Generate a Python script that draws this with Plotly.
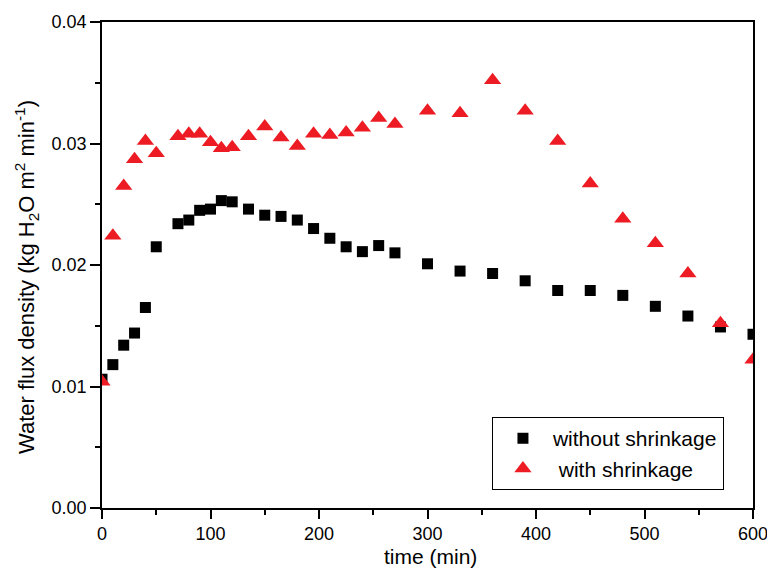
import plotly.graph_objects as go

t_without = [0, 10, 20, 30, 40, 50, 70, 80, 90, 100, 110, 120, 135, 150, 165, 180, 195, 210,
             225, 240, 255, 270, 300, 330, 360, 390, 420, 450, 480, 510, 540, 570, 600]
flux_without = [0.0106, 0.0118, 0.0134, 0.0144, 0.0165, 0.0215, 0.0234, 0.0237, 0.0245, 0.0246,
                0.0253, 0.0252, 0.0246, 0.0241, 0.0240, 0.0237, 0.0230, 0.0222, 0.0215, 0.0211,
                0.0216, 0.0210, 0.0201, 0.0195, 0.0193, 0.0187, 0.0179, 0.0179, 0.0175, 0.0166,
                0.0158, 0.0149, 0.0143]

t_with = [0, 10, 20, 30, 40, 50, 70, 80, 90, 100, 110, 120, 135, 150, 165, 180, 195, 210,
          225, 240, 255, 270, 300, 330, 360, 390, 420, 450, 480, 510, 540, 570, 600]
flux_with = [0.0104, 0.0224, 0.0265, 0.0287, 0.0302, 0.0292, 0.0306, 0.0308, 0.0308, 0.0301,
             0.0296, 0.0297, 0.0306, 0.0314, 0.0305, 0.0298, 0.0308, 0.0307, 0.0309, 0.0313,
             0.0321, 0.0316, 0.0327, 0.0325, 0.0352, 0.0327, 0.0302, 0.0267, 0.0238, 0.0218,
             0.0193, 0.0152, 0.0122]

x_ticks = [0, 100, 200, 300, 400, 500, 600]
y_ticks = [0.00, 0.01, 0.02, 0.03, 0.04]
y_ticklabels = ["0.00", "0.01", "0.02", "0.03", "0.04"]

x_title = "time (min)"
y_title = "Water flux density (kg H<sub>2</sub>O m<sup>2</sup> min<sup>-1</sup>)"

FONT = "Liberation Sans, Arial, sans-serif"

fig = go.Figure()
fig.add_trace(go.Scatter(
    x=t_without, y=flux_without, mode="markers", name="without shrinkage",
    marker=dict(symbol="square", size=11, color="#000000"),
))
fig.add_trace(go.Scatter(
    x=t_with, y=flux_with, mode="markers", name="\u00a0with shrinkage",
    marker=dict(symbol="triangle-up", size=15, color="#ED1C24"),
))

fig.update_layout(
    width=767, height=575,
    margin=dict(l=102, r=14, t=22, b=67, pad=0),
    paper_bgcolor="white", plot_bgcolor="white",
    font=dict(family=FONT, size=18, color="black"),
    showlegend=True,
    legend=dict(
        x=0.599, y=0.187, xanchor="left", yanchor="top",
        bordercolor="black", borderwidth=1, bgcolor="white",
        font=dict(family=FONT, size=21, color="black"),
        itemwidth=50, tracegroupgap=0,
    ),
    xaxis=dict(
        range=[0, 600], tickvals=x_ticks, ticktext=[str(v) for v in x_ticks],
        showline=True, linecolor="black", linewidth=1.5, mirror=True,
        ticks="outside", ticklen=9, tickwidth=1.5, tickcolor="black",
        minor=dict(dtick=50, ticks="outside", ticklen=5, tickwidth=1.5, tickcolor="black"),
        showgrid=False, zeroline=False, ticklabeloverflow="allow", automargin=False,
        tickfont=dict(size=18),
    ),
    yaxis=dict(
        range=[0, 0.04], tickvals=y_ticks, ticktext=y_ticklabels,
        showline=True, linecolor="black", linewidth=1.5, mirror=True,
        ticks="outside", ticklen=10, tickwidth=1.5, tickcolor="black",
        minor=dict(dtick=0.005, ticks="outside", ticklen=5, tickwidth=1.5, tickcolor="black"),
        showgrid=False, zeroline=False, automargin=False,
        tickfont=dict(size=18),
    ),
    annotations=[
        dict(text=x_title, xref="paper", yref="paper", x=0.505, y=-0.099,
             xanchor="center", yanchor="middle", showarrow=False,
             font=dict(family=FONT, size=21, color="black")),
        dict(text=y_title, xref="paper", yref="paper", x=-0.117, y=0.475,
             xanchor="center", yanchor="middle", showarrow=False, textangle=-90,
             font=dict(family=FONT, size=22, color="black")),
    ],
)

fig.write_html("out.html")
